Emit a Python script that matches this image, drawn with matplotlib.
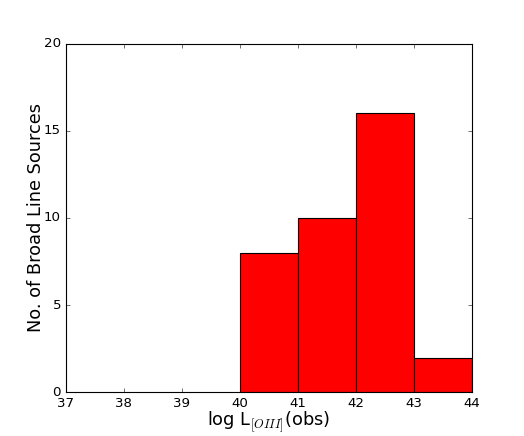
import numpy as np
import matplotlib
matplotlib.use('Agg')
import matplotlib.pyplot as plt

plt.style.use('classic')

bin_left = [40, 41, 42, 43]
counts = [8, 10, 16, 2]
bin_width = 1

fig = plt.figure(figsize=(6.55, 5.45), dpi=80)
ax = fig.add_subplot(111)
ax.bar(bin_left, counts, width=bin_width, align='edge', color='red', edgecolor='black')
ax.set_xlim(37, 44)
ax.set_ylim(0, 20)
ax.set_xticks(np.arange(37, 45, 1))
ax.set_yticks([0, 5, 10, 15, 20])
ax.set_xlabel(r'log L$_{[OIII]}$(obs)', fontsize=16, labelpad=0)
ax.set_ylabel('No. of Broad Line Sources', fontsize=16, labelpad=-1)
fig.savefig('out.png', dpi=80)
